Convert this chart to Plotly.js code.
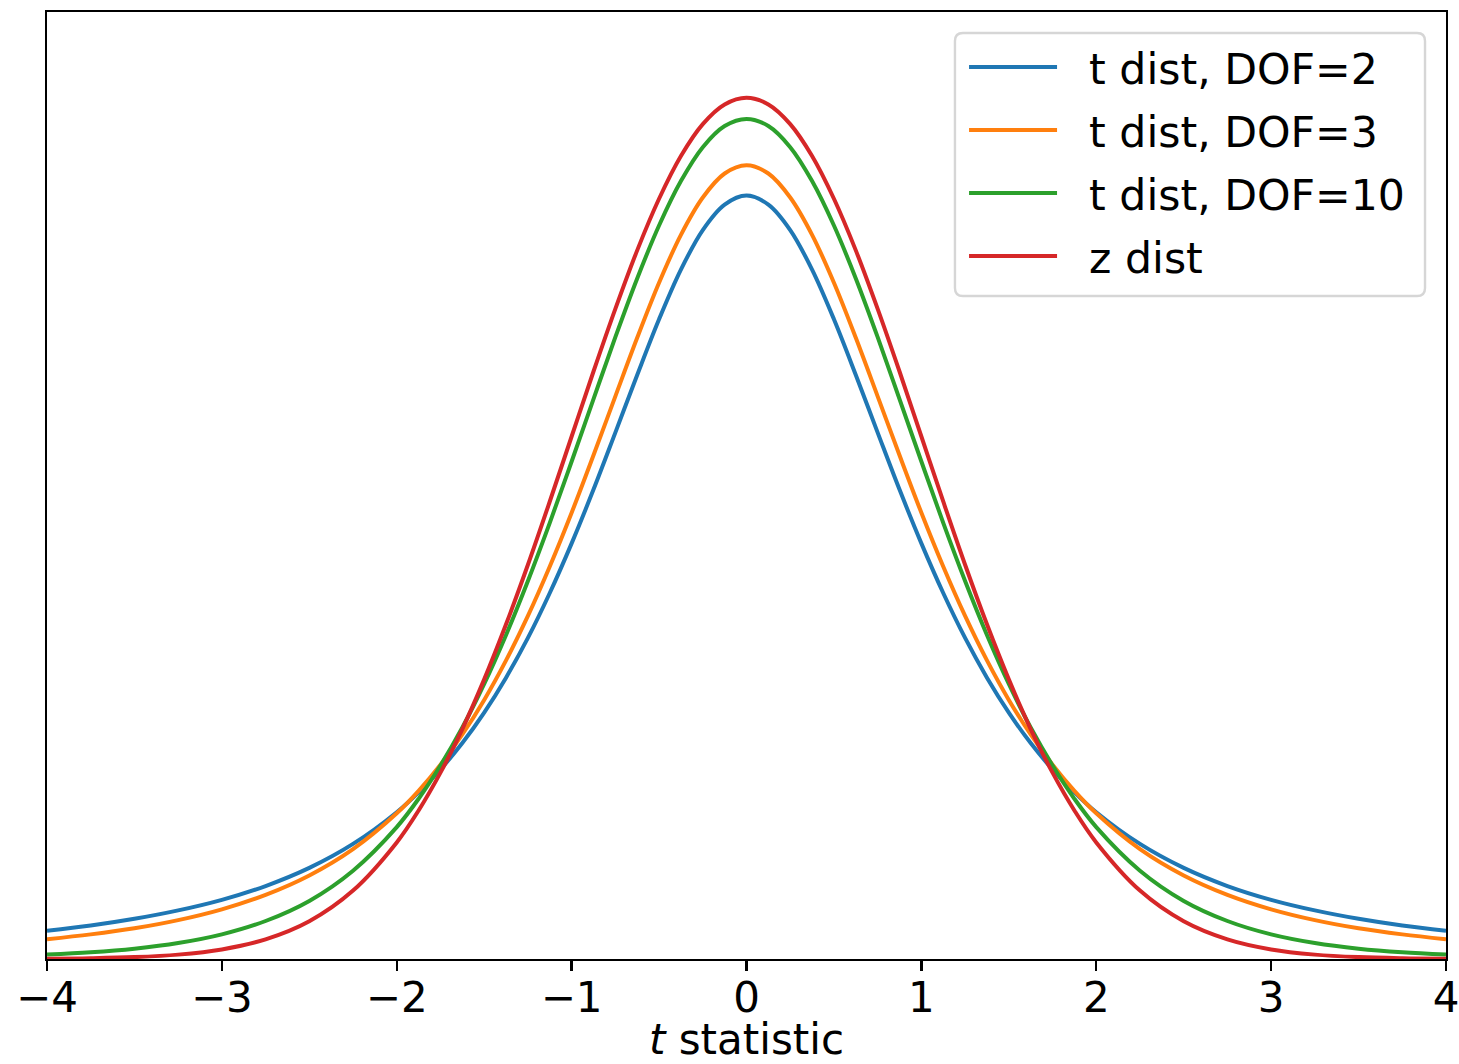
<!DOCTYPE html>
<html>
<head>
<meta charset="utf-8">
<script src="https://cdn.plot.ly/plotly-3.0.1.min.js"></script>
<style>html,body{margin:0;padding:0;background:#fff;}#chart{width:1459px;height:1064px;}</style>
</head>
<body>
<div id="chart"></div>
<script>
var tValues = [-4,-3.75,-3.5,-3.25,-3,-2.75,-2.5,-2.25,-2,-1.875,-1.75,-1.625,-1.5,-1.375,-1.25,-1.125,-1,-0.875,-0.75,-0.625,-0.5,-0.375,-0.25,-0.125,0,0.125,0.25,0.375,0.5,0.625,0.75,0.875,1,1.125,1.25,1.375,1.5,1.625,1.75,1.875,2,2.25,2.5,2.75,3,3.25,3.5,3.75,4];
var dof2 = [0.0131,0.0155,0.0186,0.0225,0.0274,0.0338,0.0422,0.0533,0.0680,0.0772,0.0878,0.1000,0.1141,0.1303,0.1487,0.1695,0.1925,0.2174,0.2438,0.2705,0.2963,0.3193,0.3376,0.3494,0.3536,0.3494,0.3376,0.3193,0.2963,0.2705,0.2438,0.2174,0.1925,0.1695,0.1487,0.1303,0.1141,0.1000,0.0878,0.0772,0.0680,0.0533,0.0422,0.0338,0.0274,0.0225,0.0186,0.0155,0.0131];
var dof3 = [0.00916,0.0114,0.0142,0.0180,0.0230,0.0297,0.0387,0.0509,0.0675,0.0779,0.0900,0.1040,0.1200,0.1383,0.1589,0.1818,0.2067,0.2333,0.2606,0.2877,0.3132,0.3354,0.3527,0.3638,0.3676,0.3638,0.3527,0.3354,0.3132,0.2877,0.2606,0.2333,0.2067,0.1818,0.1589,0.1383,0.1200,0.1040,0.0900,0.0779,0.0675,0.0509,0.0387,0.0297,0.0230,0.0180,0.0142,0.0114,0.00916];
var dof10 = [0.00203,0.00311,0.00478,0.00738,0.0114,0.0176,0.0269,0.0409,0.0611,0.0742,0.0896,0.1072,0.1274,0.1501,0.1751,0.2020,0.2304,0.2593,0.2880,0.3152,0.3397,0.3603,0.3760,0.3858,0.3891,0.3858,0.3760,0.3603,0.3397,0.3152,0.2880,0.2593,0.2304,0.2020,0.1751,0.1501,0.1274,0.1072,0.0896,0.0742,0.0611,0.0409,0.0269,0.0176,0.0114,0.00738,0.00478,0.00311,0.00203];
var zdist = [0.00013,0.00035,0.00087,0.00203,0.00443,0.0091,0.0175,0.0317,0.0540,0.0688,0.0863,0.1065,0.1295,0.1550,0.1826,0.2119,0.2420,0.2721,0.3011,0.3282,0.3521,0.3719,0.3867,0.3958,0.3989,0.3958,0.3867,0.3719,0.3521,0.3282,0.3011,0.2721,0.2420,0.2119,0.1826,0.1550,0.1295,0.1065,0.0863,0.0688,0.0540,0.0317,0.0175,0.0091,0.00443,0.00203,0.00087,0.00035,0.00013];
var seriesNames = ["t dist, DOF=2","t dist, DOF=3","t dist, DOF=10","z dist"];
var seriesColors = ["#1f77b4","#ff7f0e","#2ca02c","#d62728"];
var seriesData = [dof2, dof3, dof10, zdist];
var xTitle = "<i>t</i> statistic";

var pad = "\u00a0\u00a0";
var traces = seriesData.map(function(ys, i){
  return {
    x: tValues, y: ys, type: "scatter", mode: "lines",
    name: pad + seriesNames[i], legendgroup: "g" + i,
    line: {color: seriesColors[i], width: 4, shape: "spline", smoothing: 1},
    hoverinfo: "skip"
  };
});
var font = {family: "DejaVu Sans, sans-serif", size: 42, color: "#000"};
var legendFont = {family: "DejaVu Sans, sans-serif", size: 42.6, color: "#000"};

// legend frame (rounded rectangle) in paper coordinates
var bx0 = 0.6490, bx1 = 0.9850, by0 = 0.7001, by1 = 0.9778, rx = 0.0057, ry = 0.0085;
var framePath = "M" + (bx0+rx) + "," + by1 + " L" + (bx1-rx) + "," + by1 +
  " Q" + bx1 + "," + by1 + " " + bx1 + "," + (by1-ry) +
  " L" + bx1 + "," + (by0+ry) + " Q" + bx1 + "," + by0 + " " + (bx1-rx) + "," + by0 +
  " L" + (bx0+rx) + "," + by0 + " Q" + bx0 + "," + by0 + " " + bx0 + "," + (by0+ry) +
  " L" + bx0 + "," + (by1-ry) + " Q" + bx0 + "," + by1 + " " + (bx0+rx) + "," + by1 + " Z";

var layout = {
  width: 1459, height: 1064,
  margin: {l: 47, r: 13, t: 12, b: 105, pad: 0},
  paper_bgcolor: "#fff", plot_bgcolor: "#fff",
  font: font,
  showlegend: true,
  legend: {
    x: 0.6555, y: 0.978, xanchor: "left", yanchor: "top",
    bgcolor: "rgba(0,0,0,0)", borderwidth: 0,
    font: legendFont, itemwidth: 88, tracegroupgap: 4.6,
    itemclick: false, itemdoubleclick: false
  },
  shapes: [{
    type: "path", xref: "paper", yref: "paper", path: framePath, layer: "above",
    fillcolor: "rgba(255,255,255,0.8)", line: {color: "#d6d6d6", width: 2.4}
  }],
  xaxis: {
    range: [-4, 4], dtick: 1, tick0: 0, ticks: "outside", ticklen: 10, tickwidth: 2.4,
    tickcolor: "#000", showgrid: false, zeroline: false,
    showline: true, linecolor: "#000", linewidth: 2.4, mirror: true,
    tickfont: font, automargin: false, ticklabeloverflow: "allow", ticklabelstandoff: -10,
    title: {text: xTitle, font: font, standoff: 27}
  },
  yaxis: {
    range: [0, 0.4386], showticklabels: false, ticks: "", showgrid: false, zeroline: false,
    showline: true, linecolor: "#000", linewidth: 2.4, mirror: true, automargin: false
  }
};
Plotly.newPlot("chart", traces, layout, {staticPlot: true, displayModeBar: false});
</script>
</body>
</html>
